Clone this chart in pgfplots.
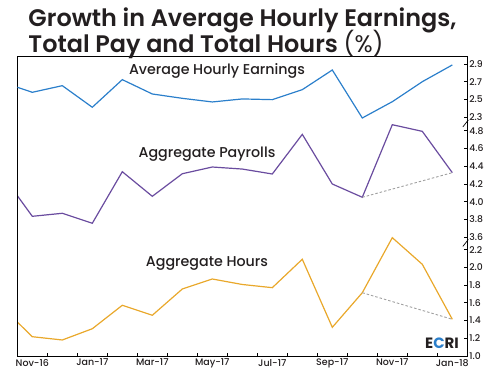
\documentclass[border=0pt]{standalone}
\usepackage{fontspec}
\setmainfont{Poppins}
\newfontfamily\semib{Poppins SemiBold}
\newfontfamily\medf{Poppins Medium}
\usepackage{pgfplots}
\pgfplotsset{compat=1.18}
\definecolor{ahe}{HTML}{2B7FCB}
\definecolor{pay}{HTML}{6A4C9F}
\definecolor{hrs}{HTML}{E9A82B}
\definecolor{txt}{HTML}{231F20}
\definecolor{dgray}{HTML}{A0A0A0}
\pgfplotsset{panel/.style={
  scale only axis, width=450bp, height=299.5bp, at={(0,0)}, anchor=south west,
  xmin=-0.5, xmax=14.5,
  axis line style={line width=0.9bp, black},
  ytick pos=right, yticklabel pos=right, tick align=inside,
  major tick length=3bp, minor tick length=3bp,
  tick style={line width=0.8bp, black},
  yticklabel style={font=\medf\fontsize{9.3}{10}\selectfont, text=txt, xshift=-1.5bp,
    /pgf/number format/fixed, /pgf/number format/fixed zerofill, /pgf/number format/precision=1},
  /pgf/number format/assume math mode=true,
  xtick=\empty,
  every axis plot/.append style={line width=1.2bp, mark=none},
}}
\begin{document}
\begin{tikzpicture}
\path[use as bounding box] (-17.3bp,-19bp) rectangle (477.7bp,356bp);
% bottom panel: Aggregate Hours
\begin{axis}[panel, ymin=1.0, ymax=4.384, ytick={1.0,1.2,...,2.21},
  xtick={0,2,...,14}, xticklabels={Nov-16,Jan-17,Mar-17,May-17,Jul-17,Sep-17,Nov-17,Jan-18},
  xtick pos=bottom, major x tick style={draw=none},
  minor xtick={0.5,1.5,...,13.5},
  xticklabel style={font=\medf\fontsize{9.5}{10}\selectfont, text=txt, yshift=0.5bp}]
\addplot[hrs] coordinates {(-0.5,1.384) (0,1.218) (1,1.181) (2,1.308) (3,1.573) (4,1.460) (5,1.757) (6,1.870) (7,1.808) (8,1.772) (9,2.093) (10,1.324) (11,1.715) (12,2.337) (13,2.036) (14,1.415)};
\addplot[dgray, line width=0.9bp, dash pattern=on 2.5bp off 2bp] coordinates {(11,1.715) (14,1.415)};
\end{axis}
% middle panel: Aggregate Payrolls
\begin{axis}[panel, ymin=2.2554, ymax=5.6398, ytick={3.6,3.8,...,4.81}]
\addplot[pay] coordinates {(-0.5,4.067) (0,3.834) (1,3.868) (2,3.755) (3,4.338) (4,4.060) (5,4.315) (6,4.391) (7,4.368) (8,4.312) (9,4.760) (10,4.199) (11,4.049) (12,4.869) (13,4.794) (14,4.327)};
\addplot[dgray, line width=0.9bp, dash pattern=on 2.5bp off 2bp] coordinates {(11,4.049) (14,4.327)};
\end{axis}
% top panel: Average Hourly Earnings
\begin{axis}[panel, ymin=-0.3994, ymax=2.9846, ytick={2.3,2.5,...,2.91}]
\addplot[ahe] coordinates {(-0.5,2.637) (0,2.580) (1,2.655) (2,2.411) (3,2.723) (4,2.561) (5,2.512) (6,2.471) (7,2.505) (8,2.497) (9,2.610) (10,2.832) (11,2.290) (12,2.474) (13,2.700) (14,2.889)};
\end{axis}
% axis break marks
\draw[line width=0.7bp, black] (445.5bp,229bp) -- (451bp,236bp);
\draw[line width=0.7bp, black] (445.5bp,109.5bp) -- (451bp,116.5bp);
% series labels
\node[font=\medf\fontsize{14.3}{14}\selectfont, text=txt] at (199.7bp,285bp) {Average Hourly Earnings};
\node[font=\medf\fontsize{14.3}{14}\selectfont, text=txt] at (189.7bp,202bp) {Aggregate Payrolls};
\node[font=\medf\fontsize{14.3}{14}\selectfont, text=txt] at (189.7bp,92.7bp) {Aggregate Hours};
% title
\node[anchor=base west, inner sep=0pt, font=\semib\fontsize{24}{24}\selectfont, text=txt] at (11bp,329.3bp) {Growth in Average Hourly Earnings,};
\node[anchor=base west, inner sep=0pt, font=\semib\fontsize{24}{24}\selectfont, text=txt] at (11bp,303.7bp) {Total Pay and Total Hours {\normalfont\fontsize{24}{24}\selectfont(\%)}};
% logo
\node[font=\bfseries\fontsize{15}{15}\selectfont, text=txt, inner sep=0pt] at (424.7bp,13bp) {E\textcolor{ahe}{C}RI};
\end{tikzpicture}
\end{document}
